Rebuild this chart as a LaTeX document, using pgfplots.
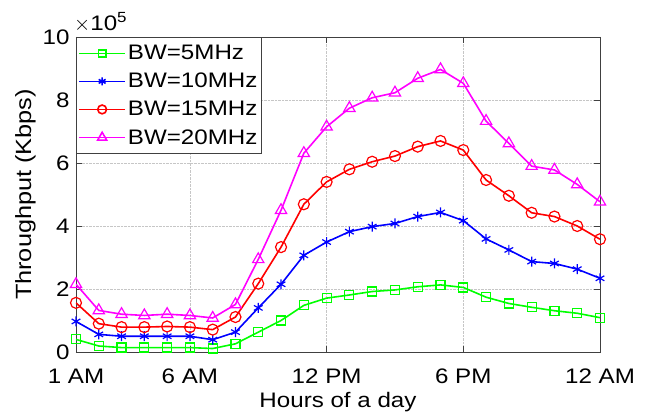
\documentclass[border=0pt]{standalone}
\usepackage{pgfplots}
\pgfplotsset{compat=1.18}
\usepackage{pgfplotstable}
\usepackage{fontspec}
\setmainfont{Liberation Sans}[FakeStretch=1.15]
\definecolor{mgreen}{RGB}{0,255,0}
\definecolor{mblue}{RGB}{0,0,255}
\definecolor{mred}{RGB}{255,0,0}
\definecolor{mmag}{RGB}{255,0,255}
\definecolor{axgray}{RGB}{64,64,64}

\pgfplotstableread{
h bw5 bw10 bw15 bw20
1 40000 97000 156000 215000
2 19000 56000 90000 132000
3 14000 50000 79000 120000
4 14000 50000 79000 116000
5 14000 50000 81000 120000
6 14000 50000 79000 116000
7 11000 39000 71000 108000
8 26000 63000 111000 151000
9 63000 140000 217000 294000
10 100000 215000 333000 450000
11 148000 307000 469000 631000
12 171000 349000 540000 715000
13 181000 382000 580000 774000
14 192000 398000 604000 807000
15 197000 408000 622000 823000
16 207000 430000 652000 869000
17 213000 443000 670000 897000
18 205000 417000 641000 853000
19 174000 359000 546000 733000
20 154000 324000 496000 662000
21 142000 287000 442000 590000
22 131000 281000 430000 578000
23 123000 263000 400000 532000
24 109000 234000 358000 477000
}\datatable

\begin{document}
\begin{tikzpicture}
\begin{axis}[
  scale only axis, width=524pt, height=315pt,
  xmin=1, xmax=24, ymin=0, ymax=1000000,
  xtick={1,6,12,18,24},
  xticklabels={1 AM,6 AM,12 PM,6 PM,12 AM},
  ytick={0,200000,400000,600000,800000,1000000},
  scaled y ticks=base 10:-5,
  ytick scale label code/.code={$\times$10\textsuperscript{5}},
  every y tick scale label/.style={at={(rel axis cs:0,1)}, anchor=south west, inner sep=0pt, yshift=5pt, xshift=1pt, font=\fontsize{21}{24}\selectfont},
  /pgf/number format/assume math mode=true,
  tick label style={font=\fontsize{21}{24}\selectfont},
  xticklabel style={anchor=base, yshift=-31pt},
  yticklabel style={xshift=-3pt},
  label style={font=\fontsize{21}{24}\selectfont},
  ylabel style={font=\fontsize{22}{26}\selectfont},
  xlabel={Hours of a day},
  ylabel={Throughput (Kbps)},
  xlabel style={at={(rel axis cs:0.5,0)}, anchor=base, yshift=-56pt},
  grid=major,
  major grid style={densely dotted, gray!45, line width=0.6pt},
  axis line style={axgray, line width=0.7pt},
  tick style={axgray, line width=0.7pt},
  major tick length=6pt,
  tick align=inside,
  xtick pos=both, ytick pos=both,
  legend style={at={(0,1)}, anchor=north west, draw=axgray, fill=white, line width=0.7pt,
    font=\fontsize{21}{24}\selectfont, row sep=8pt, inner xsep=2pt, inner ysep=6pt,
    cells={anchor=west}},
  legend image code/.code={%
    \draw[line width=1.6pt, mark repeat=2, mark phase=2, mark options={scale=0.8}]
      plot coordinates {(0pt,0pt) (23pt,0pt) (46pt,0pt)};},
  every axis plot/.append style={line width=1.6pt, mark options={solid, line width=1.2pt}},
]
\addplot[mgreen, mark=square, mark size=4.5pt] table[x=h,y=bw5] {\datatable};
\addlegendentry{BW=5MHz}
\addplot[mblue, mark=asterisk, mark size=5pt] table[x=h,y=bw10] {\datatable};
\addlegendentry{BW=10MHz}
\addplot[mred, mark=o, mark size=5.5pt] table[x=h,y=bw15] {\datatable};
\addlegendentry{BW=15MHz}
\addplot[mmag, mark=triangle, mark size=6.5pt] table[x=h,y=bw20] {\datatable};
\addlegendentry{BW=20MHz}
\end{axis}
\path (current axis.south west) ++(-76pt,-65pt) coordinate (bbsw);
\path (current axis.north east) ++(53pt,37pt) coordinate (bbne);
\path (bbsw) rectangle (bbne);
\end{tikzpicture}
\end{document}
